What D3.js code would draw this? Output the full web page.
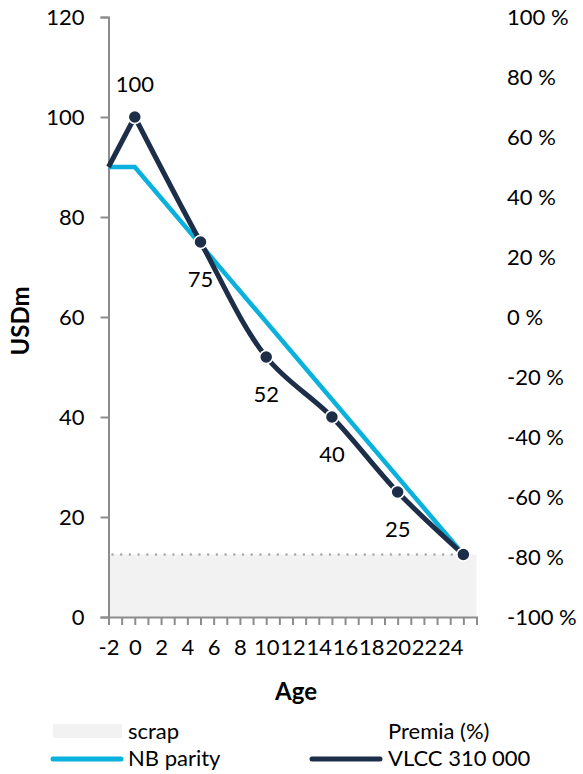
<!DOCTYPE html>
<html>
<head>
<meta charset="utf-8">
<script src="https://d3js.org/d3.v7.min.js"></script>
<style>
    body { margin: 0; background: #fff; }
    text { font-family: Lato, "Noto Sans", sans-serif; fill: #000; }
</style>
</head>
<body>
<svg id="chart" width="583" height="774"></svg>
<script>
// data
const vlccAges = [-2, 0, 5, 10, 15, 20, 25];
const vlccValues = [90, 100, 75, 52, 40, 25, 12.5];
const nbAges = [-2, 0, 25];
const nbValues = [90, 90, 12.5];
const scrapValue = 12.5;
const markerAges = [0, 5, 10, 15, 20, 25];
const usdTicks = [0, 20, 40, 60, 80, 100, 120];
const premiaTicks = [-100, -80, -60, -40, -20, 0, 20, 40, 60, 80, 100];
const ageTicks = d3.range(-2, 27);
const ageLabels = d3.range(-2, 25, 2);

let config = {
    font: 'Lato, "Noto Sans", sans-serif',
    fontSize: 22,
    navy: '#1d2e48',
    cyan: '#0ab1dc',
    axis: '#8c8c8c',
}

const svg = d3.select('#chart');

const x = d3.scaleLinear().domain([-2, 26]).range([108.5, 476.5]);
const y = d3.scaleLinear().domain([0, 120]).range([617, 17]);
const y2 = d3.scaleLinear().domain([-100, 100]).range([617, 17]);

// scrap area
svg.append('rect')
    .attr('x', x(-2)).attr('y', y(scrapValue))
    .attr('width', x(26) - x(-2)).attr('height', y(0) - y(scrapValue))
    .attr('fill', '#f2f2f2');
svg.append('line')
    .attr('x1', x(-2) + 4).attr('x2', x(26))
    .attr('y1', y(scrapValue)).attr('y2', y(scrapValue))
    .attr('stroke', '#a6a6a6').attr('stroke-width', 2.5)
    .attr('stroke-linecap', 'round').attr('stroke-dasharray', '0,8.7');

// left axis
const yAxis = svg.append('g')
    .attr('transform', 'translate(' + x(-2) + ',0)')
    .call(d3.axisLeft(y).tickValues(usdTicks).tickSize(8).tickPadding(16));
// bottom axis
const xAxis = svg.append('g')
    .attr('transform', 'translate(0,' + y(0) + ')')
    .call(d3.axisBottom(x).tickValues(ageTicks).tickSize(8).tickPadding(14)
        .tickFormat(d => ageLabels.indexOf(d) >= 0 ? d : ''));
// right axis, labels only
const y2Axis = svg.append('g')
    .attr('transform', 'translate(507,0)')
    .call(d3.axisRight(y2).tickValues(premiaTicks).tickSize(0).tickPadding(0)
        .tickFormat(d => d + ' %'));
y2Axis.select('.domain').remove();

[yAxis, xAxis, y2Axis].forEach(g => {
    g.selectAll('.domain').attr('stroke', config.axis).attr('stroke-width', 2);
    g.selectAll('.tick line').attr('stroke', config.axis).attr('stroke-width', 2);
    g.selectAll('text')
        .style('font-family', config.font)
        .style('font-size', config.fontSize + 'px')
        .attr('fill', '#000');
});

// NB parity
svg.append('path')
    .datum(nbAges.map((a, i) => [a, nbValues[i]]))
    .attr('fill', 'none').attr('stroke', config.cyan).attr('stroke-width', 4.5)
    .attr('d', d3.line().x(d => x(d[0])).y(d => y(d[1])));

// VLCC, straight up to the peak then smoothed
const vlcc = vlccAges.map((a, i) => [a, vlccValues[i]]);
svg.append('path')
    .datum(vlcc.slice(0, 2))
    .attr('fill', 'none').attr('stroke', config.navy).attr('stroke-width', 5)
    .attr('d', d3.line().x(d => x(d[0])).y(d => y(d[1])));
svg.append('path')
    .datum(vlcc.slice(1))
    .attr('fill', 'none').attr('stroke', config.navy).attr('stroke-width', 5)
    .attr('stroke-linejoin', 'round')
    .attr('d', d3.line().x(d => x(d[0])).y(d => y(d[1])).curve(d3.curveCatmullRom.alpha(0.5)));

const pts = vlcc.filter(d => markerAges.indexOf(d[0]) >= 0);
svg.selectAll('circle.pt').data(pts).enter().append('circle')
    .attr('class', 'pt')
    .attr('cx', d => x(d[0])).attr('cy', d => y(d[1]))
    .attr('r', 6.5)
    .attr('fill', config.navy).attr('stroke', '#fff').attr('stroke-width', 1.5);

// value labels
svg.selectAll('text.val').data(pts.slice(0, 5)).enter().append('text')
    .attr('class', 'val')
    .attr('x', d => x(d[0]))
    .attr('y', (d, i) => i == 0 ? y(d[1]) - 33 : y(d[1]) + 37)
    .attr('dy', '0.35em')
    .attr('text-anchor', 'middle')
    .style('font-size', config.fontSize + 'px')
    .text(d => d[1]);

// axis titles
svg.append('text')
    .attr('transform', 'translate(21,321) rotate(-90)')
    .attr('text-anchor', 'middle').attr('dy', '0.35em')
    .style('font-size', '24px').style('font-weight', 'bold')
    .text('USDm');
svg.append('text')
    .attr('x', 296).attr('y', 692)
    .attr('text-anchor', 'middle').attr('dy', '0.35em')
    .style('font-size', '24px').style('font-weight', 'bold')
    .text('Age');

// legend
const legend = svg.append('g').classed('legend', true);
legend.append('rect')
    .attr('x', 53).attr('y', 724).attr('width', 69).attr('height', 14)
    .attr('fill', '#f2f2f2');
legend.append('line')
    .attr('x1', 53).attr('x2', 121).attr('y1', 759).attr('y2', 759)
    .attr('stroke', config.cyan).attr('stroke-width', 5).attr('stroke-linecap', 'round');
legend.append('line')
    .attr('x1', 312).attr('x2', 380).attr('y1', 759).attr('y2', 759)
    .attr('stroke', config.navy).attr('stroke-width', 5).attr('stroke-linecap', 'round');
const legendItems = [
    { text: 'scrap', x: 128, y: 739 },
    { text: 'Premia (%)', x: 388, y: 739 },
    { text: 'NB parity', x: 128, y: 766 },
    { text: 'VLCC 310 000', x: 388, y: 766 },
];
legend.selectAll('text').data(legendItems).enter().append('text')
    .attr('x', d => d.x).attr('y', d => d.y)
    .style('font-size', config.fontSize + 'px')
    .text(d => d.text);
</script>
</body>
</html>
